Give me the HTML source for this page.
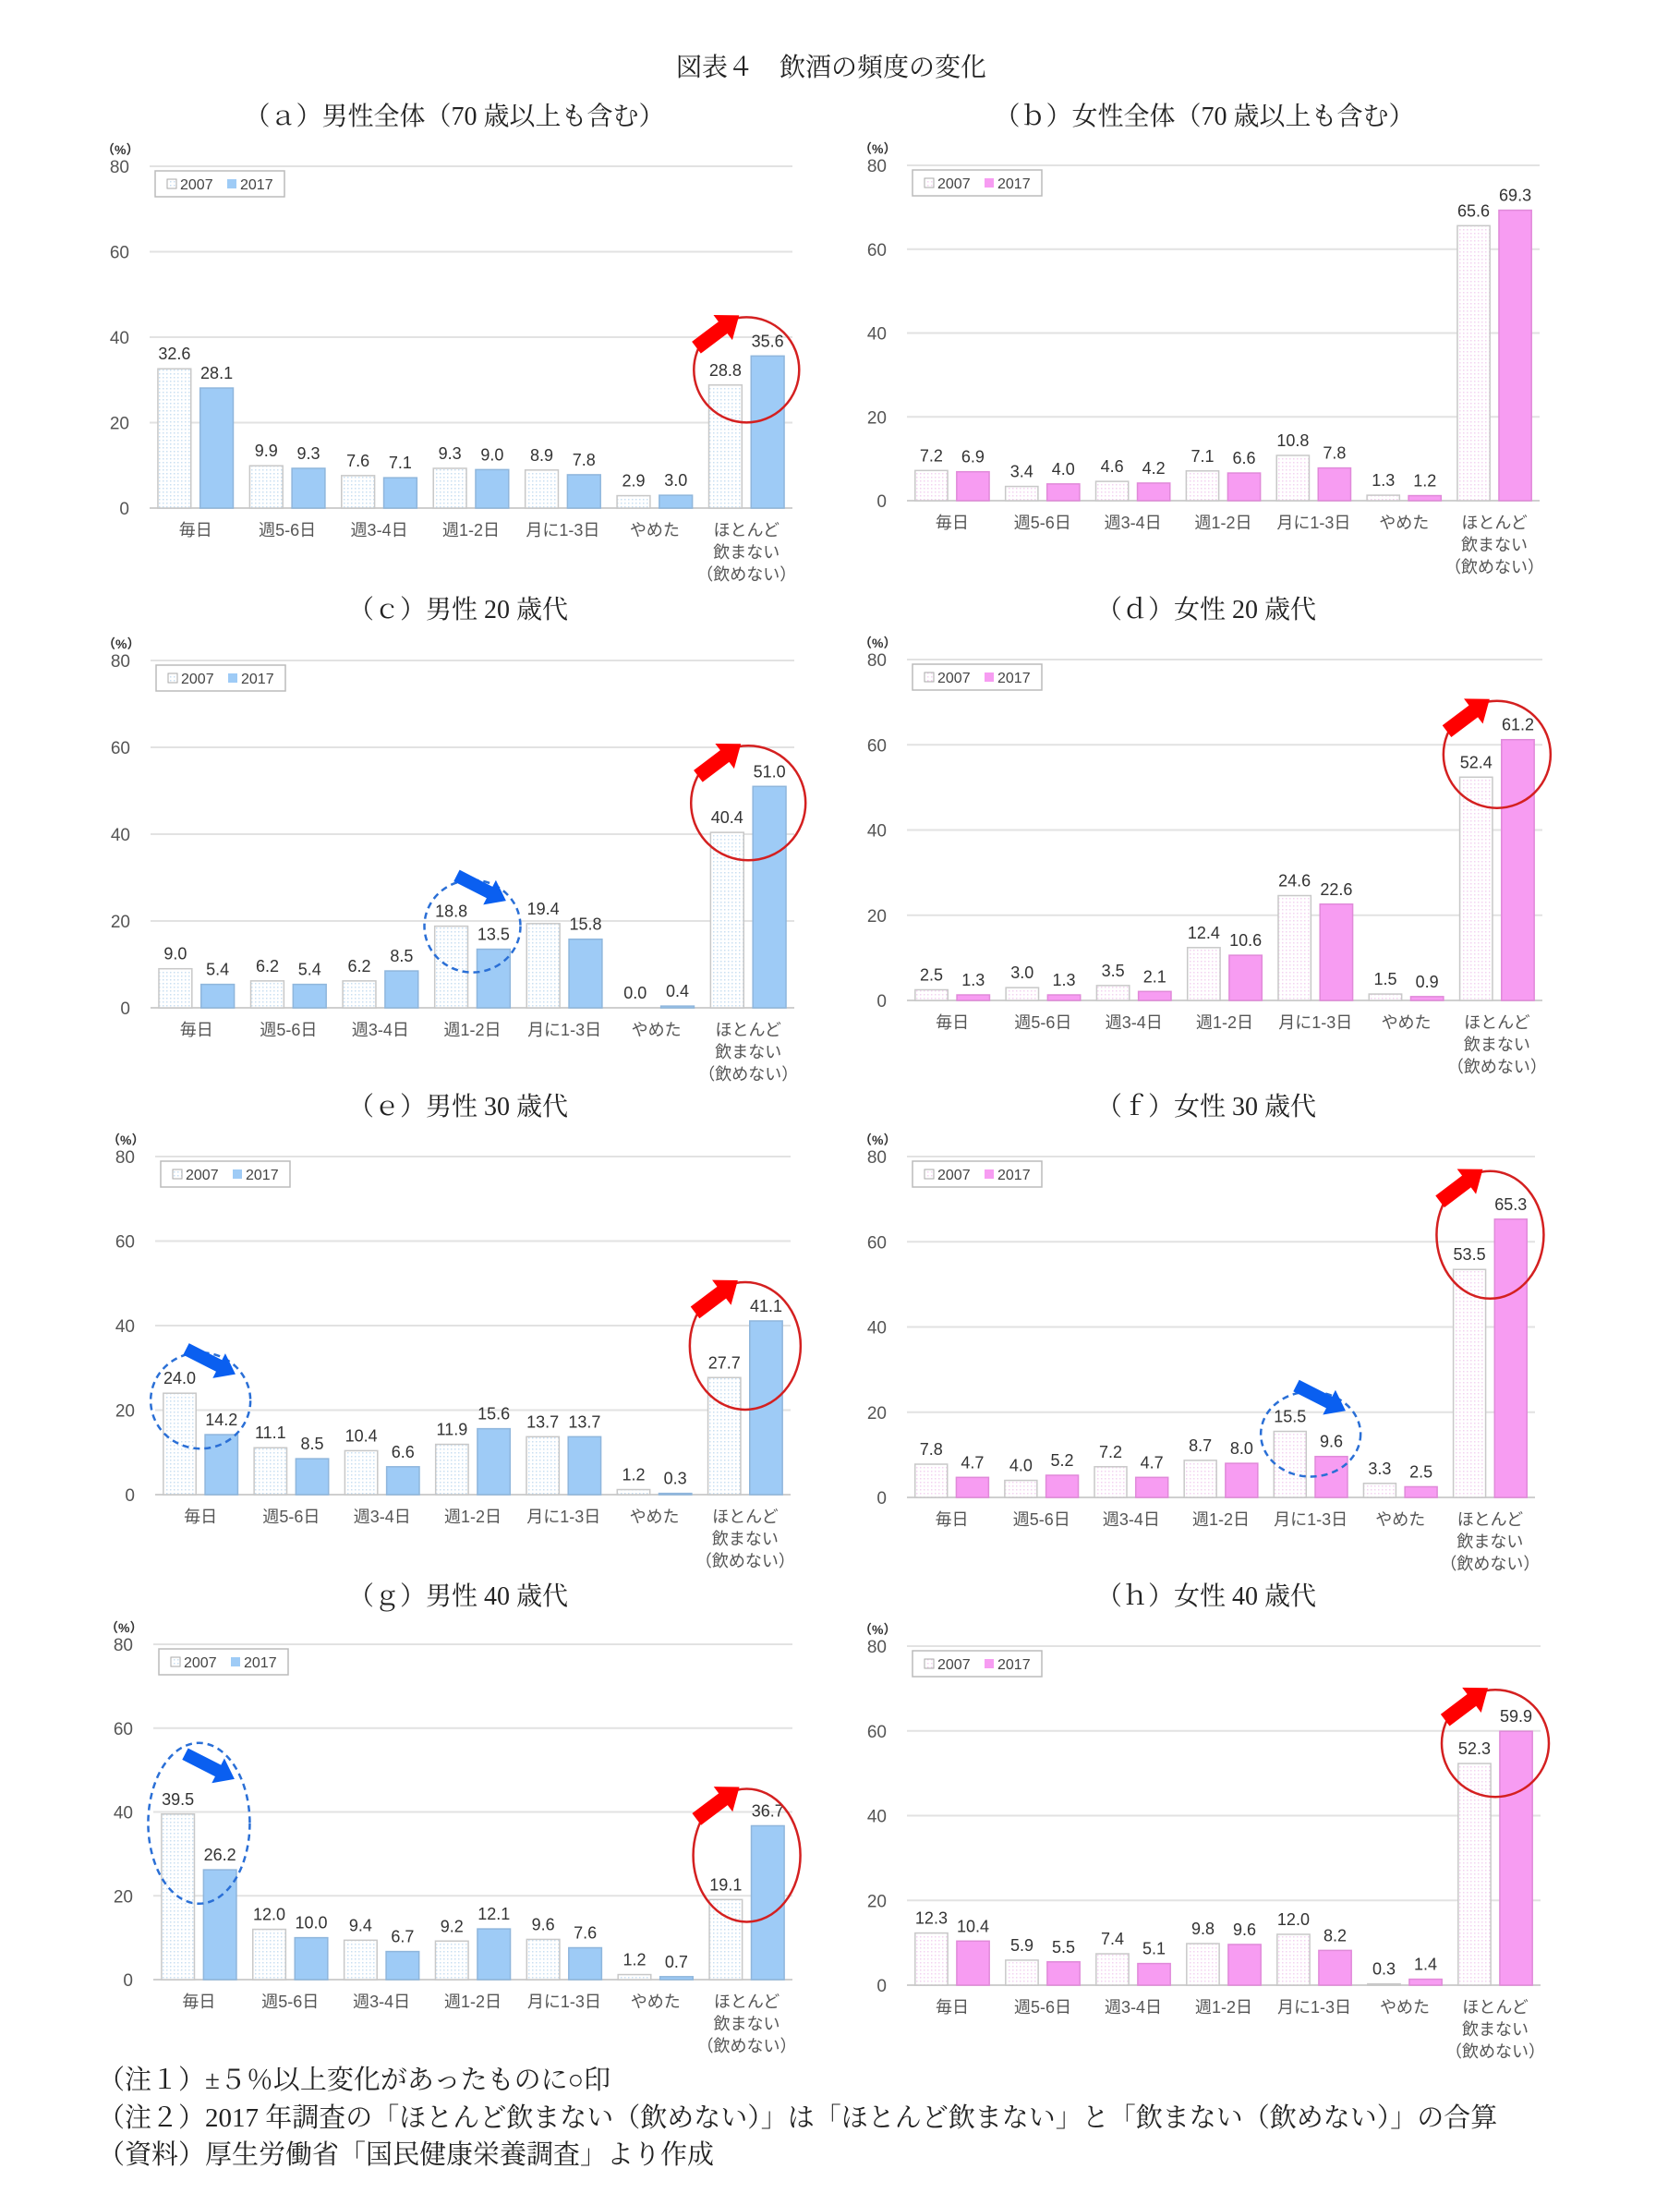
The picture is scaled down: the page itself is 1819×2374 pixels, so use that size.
<!DOCTYPE html>
<html><head><meta charset="utf-8">
<style>
html,body{margin:0;padding:0;background:#fff;}
svg{display:block;}
.serif{font-family:"Liberation Serif","Noto Serif CJK JP",serif;fill:#222;}
.sans{font-family:"Liberation Sans","Noto Sans CJK JP",sans-serif;}
</style></head>
<body>
<svg id="root" width="1819" height="2374" viewBox="0 0 1819 2374" xmlns="http://www.w3.org/2000/svg">
<defs>
<pattern id="dotB" width="4" height="4" patternUnits="userSpaceOnUse"><rect width="4" height="4" fill="#fff"/><rect width="1.5" height="1.5" fill="#c9dff2"/></pattern>
<pattern id="dotP" width="4" height="4" patternUnits="userSpaceOnUse"><rect width="4" height="4" fill="#fff"/><rect width="1.5" height="1.5" fill="#f3d3f0"/></pattern>
</defs>
<text class="serif" x="900" y="82" font-size="28" text-anchor="middle">図表４　飲酒の頻度の変化</text>
<text class="serif" x="492" y="135" font-size="28" text-anchor="middle">（ａ）男性全体（70 歳以上も含む）</text>
<text class="serif" x="1304" y="135" font-size="28" text-anchor="middle">（ｂ）女性全体（70 歳以上も含む）</text>
<text class="serif" x="496" y="669" font-size="28" text-anchor="middle">（ｃ）男性 20 歳代</text>
<text class="serif" x="1306" y="669" font-size="28" text-anchor="middle">（ｄ）女性 20 歳代</text>
<text class="serif" x="496" y="1207" font-size="28" text-anchor="middle">（ｅ）男性 30 歳代</text>
<text class="serif" x="1306" y="1207" font-size="28" text-anchor="middle">（ｆ）女性 30 歳代</text>
<text class="serif" x="496" y="1737" font-size="28" text-anchor="middle">（ｇ）男性 40 歳代</text>
<text class="serif" x="1306" y="1737" font-size="28" text-anchor="middle">（ｈ）女性 40 歳代</text>
<text class="serif" x="106" y="2261" font-size="29">（注１）±５％以上変化があったものに○印</text>
<text class="serif" x="106" y="2302" font-size="29">（注２）2017 年調査の「ほとんど飲まない（飲めない）」は「ほとんど飲まない」と「飲まない（飲めない）」の合算</text>
<text class="serif" x="106" y="2342" font-size="29">（資料）厚生労働省「国民健康栄養調査」より作成</text>
<g id="charts"></g>
</svg>
<script>
const categories = ["毎日","週5-6日","週3-4日","週1-2日","月に1-3日","やめた","ほとんど|飲まない|（飲めない）"];
const yTicks = [0,20,40,60,80];
const legendLabels = ["2007","2017"];
const a2007 = [32.6,9.9,7.6,9.3,8.9,2.9,28.8];
const a2017 = [28.1,9.3,7.1,9.0,7.8,3.0,35.6];
const b2007 = [7.2,3.4,4.6,7.1,10.8,1.3,65.6];
const b2017 = [6.9,4.0,4.2,6.6,7.8,1.2,69.3];
const c2007 = [9.0,6.2,6.2,18.8,19.4,0.0,40.4];
const c2017 = [5.4,5.4,8.5,13.5,15.8,0.4,51.0];
const d2007 = [2.5,3.0,3.5,12.4,24.6,1.5,52.4];
const d2017 = [1.3,1.3,2.1,10.6,22.6,0.9,61.2];
const e2007 = [24.0,11.1,10.4,11.9,13.7,1.2,27.7];
const e2017 = [14.2,8.5,6.6,15.6,13.7,0.3,41.1];
const f2007 = [7.8,4.0,7.2,8.7,15.5,3.3,53.5];
const f2017 = [4.7,5.2,4.7,8.0,9.6,2.5,65.3];
const g2007 = [39.5,12.0,9.4,9.2,9.6,1.2,19.1];
const g2017 = [26.2,10.0,6.7,12.1,7.6,0.7,36.7];
const h2007 = [12.3,5.9,7.4,9.8,12.0,0.3,52.3];
const h2017 = [10.4,5.5,5.1,9.6,8.2,1.4,59.9];

const charts = [
 {id:"a",L:162,R:858,T:180,B:550,v1:a2007,v2:a2017,f:"m",red:{i:6,dy:15,rx:57,ry:57}},
 {id:"b",L:982,R:1667,T:179,B:542,v1:b2007,v2:b2017,f:"w"},
 {id:"c",L:163,R:860,T:715,B:1091,v1:c2007,v2:c2017,f:"m",blue:{i:3,dy:0,rx:52,ry:50},red:{i:6,dy:18,rx:62,ry:62}},
 {id:"d",L:982,R:1670,T:714,B:1083,v1:d2007,v2:d2017,f:"w",red:{i:6,dy:16,rx:58,ry:58}},
 {id:"e",L:168,R:856,T:1252,B:1618,v1:e2007,v2:e2017,f:"m",blue:{i:0,dy:8,rx:54,ry:52},red:{i:6,dy:27,rx:60,ry:69}},
 {id:"f",L:982,R:1662,T:1252,B:1621,v1:f2007,v2:f2017,f:"w",blue:{i:4,dy:3,rx:54,ry:46},red:{i:6,dy:17,rx:58,ry:69}},
 {id:"g",L:166,R:858,T:1780,B:2143,v1:g2007,v2:g2017,f:"m",blue:{i:0,dy:10,rx:55,ry:87},red:{i:6,dy:32,rx:58,ry:72}},
 {id:"h",L:982,R:1668,T:1782,B:2149,v1:h2007,v2:h2017,f:"w",red:{i:6,dy:13,rx:58,ry:58}}
];
const NS="http://www.w3.org/2000/svg";
const root=document.getElementById("charts");
function mk(tag,attrs,parent){const e=document.createElementNS(NS,tag);for(const k in attrs)e.setAttribute(k,attrs[k]);(parent||root).appendChild(e);return e;}

charts.forEach(c=>{
  const g=mk("g",{});
  
  
  const y=v=>c.B-(v/80)*(c.B-c.T);
  const gw=(c.R-c.L)/7;
  const bw=gw*0.36;
  const xg=i=>c.L+i*gw;
  const col=c.f==="m"?"#9ecbf6":"#f79cf2";
  const stroke=c.f==="m"?"#8fb6dc":"#e08ad9";
  const pat=c.f==="m"?"url(#dotB)":"url(#dotP)";
  yTicks.forEach(t=>{
    const ln=mk("line",{x1:c.L,x2:c.R,y1:y(t),y2:y(t),stroke:t===0?"#cfcfcf":"#e2e2e2","stroke-width":2},g);
    
    
    const tx=mk("text",{x:c.L-22,y:y(t)+7,"font-size":19,"text-anchor":"end",fill:"#555",class:"sans"},g);
    tx.textContent=t;
    
    
  });
  const pu=mk("text",{x:c.L-52,y:c.T-13,"font-size":14,fill:"#333",class:"sans","font-weight":"bold"},g);
  pu.textContent="（%）";
  
  
  const lg=mk("g",{},g);
  
  
  const lx=c.L+6, ly=c.T+5;
  mk("rect",{x:lx,y:ly,width:140,height:28,fill:"#fff",stroke:"#bbb","stroke-width":1.5},lg);
  mk("rect",{x:lx+13,y:ly+9,width:10,height:10,fill:pat,stroke:"#aaa"},lg);
  const l1=mk("text",{x:lx+27,y:ly+20,"font-size":16,fill:"#444",class:"sans"},lg);l1.textContent=legendLabels[0];
  
  
  mk("rect",{x:lx+78,y:ly+9,width:10,height:10,fill:col},lg);
  const l2=mk("text",{x:lx+92,y:ly+20,"font-size":16,fill:"#444",class:"sans"},lg);l2.textContent=legendLabels[1];
  
  
  categories.forEach((cat,i)=>{
    const x1=xg(i)+gw*0.09, x2=x1+bw+gw*0.1;
    [[c.v1[i],x1,pat,"#c8c8c8","2007"],[c.v2[i],x2,col,stroke,"2017"]].forEach(([v,x,fill,st,yr])=>{
      const r=mk("rect",{x:x,y:y(v),width:bw,height:Math.max(c.B-y(v),0),fill:fill,stroke:st,"stroke-width":1.5},g);
      
      
      const t=mk("text",{x:x+bw/2,y:y(v)-10,"font-size":18,"text-anchor":"middle",fill:"#333",class:"sans"},g);
      t.textContent=v.toFixed(1);
      
      
    });
    const parts=cat.split("|");
    parts.forEach((p,k)=>{
      const t=mk("text",{x:xg(i)+gw/2,y:c.B+30+k*24,"font-size":18,"text-anchor":"middle",fill:"#555",class:"sans"},g);
      t.textContent=p;
      
      
    });
  });
  function maxv(i){return Math.max(c.v1[i],c.v2[i]);}
  if(c.red){
    const a=c.red,cx=xg(a.i)+gw/2,cy=y(maxv(a.i))+a.dy;
    const ci=mk("ellipse",{cx:cx,cy:cy,rx:a.rx,ry:a.ry,fill:"none",stroke:"#d42020","stroke-width":2.5},g);
    
    
    const tx=cx-8, ty=cy-a.ry-2;
    const ar=mk("g",{transform:`translate(${tx},${ty}) rotate(-37)`},g);
    
    
    mk("polygon",{points:"0,0 -22,-17 -22,-8 -58,-8 -58,8 -22,8 -22,17",fill:"#f00"},ar);
  }
  if(c.blue){
    const a=c.blue,cx=xg(a.i)+gw/2,cy=y(maxv(a.i))+a.dy;
    const ci=mk("ellipse",{cx:cx,cy:cy,rx:a.rx,ry:a.ry,fill:"none",stroke:"#2a6fd6","stroke-width":2.5,"stroke-dasharray":"7,5"},g);
    
    
    const tx=cx+a.rx*0.7, ty=cy-a.ry*0.55;
    const ar=mk("g",{transform:`translate(${tx},${ty}) rotate(27)`},g);
    
    
    mk("polygon",{points:"0,0 -20,-15 -20,-7 -60,-7 -60,7 -20,7 -20,15",fill:"#0a5ff0"},ar);
  }
});
</script>
</body></html>
